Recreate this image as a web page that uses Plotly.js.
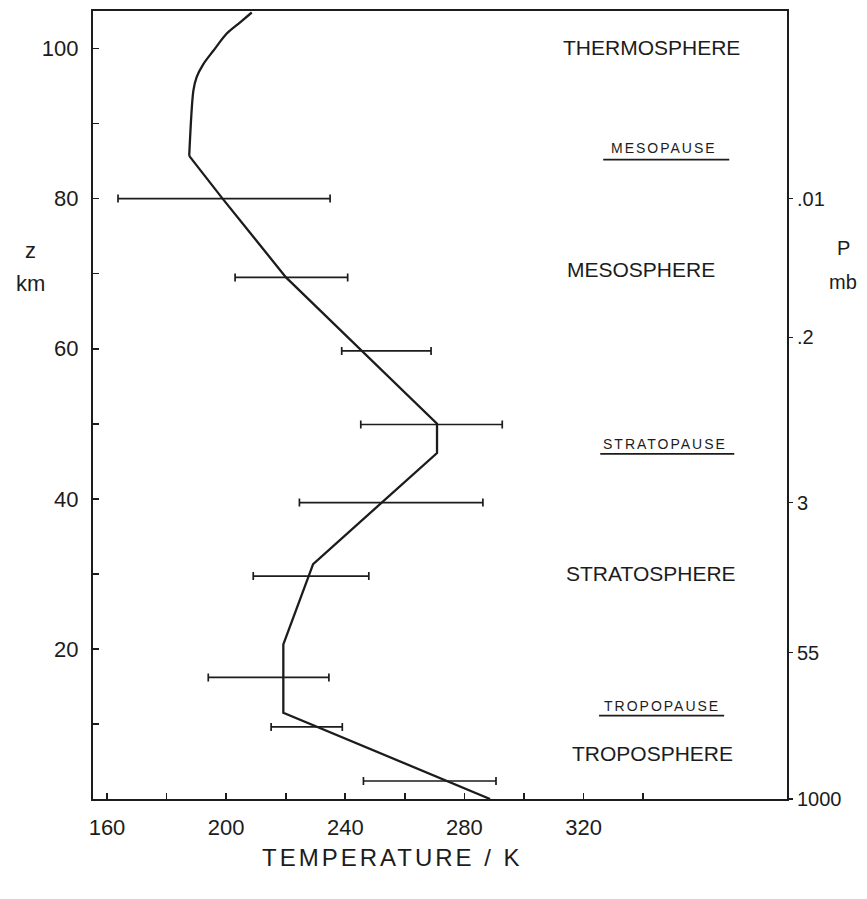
<!DOCTYPE html>
<html>
<head>
<meta charset="utf-8">
<script src="https://cdn.plot.ly/plotly-3.0.1.min.js"></script>
<style>html,body{margin:0;padding:0;background:#fff;}#chart{width:867px;height:899px;}</style>
</head>
<body>
<div id="chart"></div>
<script>
// Temperature profile (K) vs altitude (km)
const profileT = [288.6, 219.2, 219.2, 229.2, 270.8, 270.8, 220.1, 198.8, 187.6, 189.0, 190.1, 192.3, 195.7, 200.2, 204.7, 208.6];
const profileZ = [0, 11.5, 20.6, 31.3, 46.1, 50.0, 69.5, 80.0, 85.7, 94.4, 96.2, 97.9, 99.7, 102.0, 103.5, 104.8];
const mesopauseIndex = 8; // curve above this point is smooth

// Variability bars (K range at altitude)
const barZ  = [80.0, 69.5, 59.7, 49.9, 39.5, 29.7, 16.2, 9.6, 2.4];
const barLo = [163.7, 203.0, 238.8, 245.2, 224.6, 209.1, 194.0, 215.1, 246.1];
const barHi = [234.9, 240.8, 268.8, 292.7, 286.2, 247.9, 234.5, 239.0, 290.6];

// Axis ticks
const xTickVals = [160, 180, 200, 220, 240, 260, 280, 300, 320, 340];
const xTickText = ['160', '', '200', '', '240', '', '280', '', '320', ''];
const yTickVals = [10, 20, 30, 40, 50, 60, 70, 80, 90, 100];
const yTickText = ['', '20', '', '40', '', '60', '', '80', '', '100'];
// Pressure (mb) labels on right axis, at altitude (km)
const pZ = [0, 19.5, 39.5, 61.5, 80];
const pText = ['1000', '55', '3', '.2', '.01'];

// Region labels
const regionNames = ['THERMOSPHERE', 'MESOSPHERE', 'STRATOSPHERE', 'TROPOSPHERE'];
const regionX = [342.8, 339.3, 342.7, 343.0];
const regionZ = [100.1, 70.5, 30.1, 6.1];
const pauseNames = ['MESOPAUSE', 'STRATOPAUSE', 'TROPOPAUSE'];
const pauseX = [347.0, 347.4, 346.4];
const pauseZ = [86.7, 47.3, 12.4];
const pauseLineZ = [85.2, 46.0, 11.1];
const pauseLineX0 = [326.6, 325.6, 325.2];
const pauseLineX1 = [368.9, 370.6, 367.2];

const ink = '#1c1c1c';
const fam = '"Liberation Sans", Arial, sans-serif';

const barMid = barLo.map((l, i) => (l + barHi[i]) / 2);

const traces = [
  {
    x: profileT.slice(0, mesopauseIndex + 1), y: profileZ.slice(0, mesopauseIndex + 1),
    type: 'scatter', mode: 'lines',
    line: {color: ink, width: 2.3}, hoverinfo: 'skip', showlegend: false
  },
  {
    x: profileT.slice(mesopauseIndex), y: profileZ.slice(mesopauseIndex),
    type: 'scatter', mode: 'lines',
    line: {color: ink, width: 2.3, shape: 'spline', smoothing: 0.8}, hoverinfo: 'skip', showlegend: false
  },
  {
    x: barMid, y: barZ, type: 'scatter', mode: 'markers',
    marker: {size: 1, color: 'rgba(0,0,0,0)'},
    error_x: {
      type: 'data', symmetric: false,
      array: barHi.map((h, i) => h - barMid[i]),
      arrayminus: barMid.map((m, i) => m - barLo[i]),
      color: ink, thickness: 1.7, width: 4
    },
    hoverinfo: 'skip', showlegend: false
  },
  {
    x: pZ.map(() => 380), y: pZ, yaxis: 'y2', type: 'scatter', mode: 'markers',
    marker: {size: 1, color: 'rgba(0,0,0,0)'}, hoverinfo: 'skip', showlegend: false
  }
];

const annotations = [];
regionNames.forEach((t, i) => annotations.push({
  x: regionX[i], y: regionZ[i], xref: 'x', yref: 'y', text: t, showarrow: false,
  font: {family: fam, size: 21, color: ink}, xanchor: 'center', yanchor: 'middle'
}));
pauseNames.forEach((t, i) => annotations.push({
  x: pauseX[i], y: pauseZ[i], xref: 'x', yref: 'y',
  text: '<span style="letter-spacing:2px">' + t + '</span>', showarrow: false,
  font: {family: fam, size: 14, color: ink}, xanchor: 'center', yanchor: 'middle'
}));
annotations.push(
  {x: 30, y: 250, text: 'z', showarrow: false, font: {family: fam, size: 22, color: ink}},
  {x: 30, y: 283, text: 'km', showarrow: false, font: {family: fam, size: 22, color: ink}},
  {x: 843, y: 248, text: 'P', showarrow: false, font: {family: fam, size: 20, color: ink}},
  {x: 843, y: 282, text: 'mb', showarrow: false, font: {family: fam, size: 20, color: ink}},
  {x: 392, y: 857, text: '<span style="letter-spacing:3px">TEMPERATURE / K</span>', showarrow: false,
   font: {family: fam, size: 24, color: ink}}
);
// convert the pixel-positioned labels to paper coords
const W = 867, H = 899, L = 93, R = 80, T = 11, B = 100;
const pw = W - L - R, ph = H - T - B;
annotations.forEach(a => {
  if (a.xref === undefined) {
    const px = a.x, py = a.y;
    a.xref = 'paper'; a.yref = 'paper';
    a.x = (px - L) / pw; a.y = (H - B - py) / ph;
    a.xanchor = 'center'; a.yanchor = 'middle';
  }
});

const shapes = pauseNames.map((t, i) => ({
  type: 'line', xref: 'x', yref: 'y',
  x0: pauseLineX0[i], x1: pauseLineX1[i], y0: pauseLineZ[i], y1: pauseLineZ[i],
  line: {color: ink, width: 1.8}
}));

const layout = {
  width: W, height: H,
  margin: {l: L, r: R, t: T, b: B, pad: 0},
  paper_bgcolor: '#fff', plot_bgcolor: '#fff',
  showlegend: false,
  font: {family: fam, color: ink},
  xaxis: {
    range: [155.3, 388.3], showgrid: false, zeroline: false,
    showline: true, linecolor: ink, linewidth: 2.2, mirror: true,
    ticks: 'inside', ticklen: 6, tickwidth: 1.6, tickcolor: ink,
    tickmode: 'array', tickvals: xTickVals, ticktext: xTickText,
    tickfont: {family: fam, size: 22, color: ink}, ticklabelstandoff: 7
  },
  yaxis: {
    range: [0, 105], showgrid: false, zeroline: false,
    showline: true, linecolor: ink, linewidth: 2.2, mirror: true,
    ticks: 'inside', ticklen: 6, tickwidth: 1.6, tickcolor: ink,
    tickmode: 'array', tickvals: yTickVals, ticktext: yTickText,
    tickfont: {family: fam, size: 22, color: ink}, ticklabelstandoff: 8
  },
  yaxis2: {
    overlaying: 'y', side: 'right', range: [0, 105],
    showgrid: false, zeroline: false, showline: false,
    ticks: 'outside', ticklen: 5, tickwidth: 1.4, tickcolor: ink,
    tickmode: 'array', tickvals: pZ, ticktext: pText,
    tickfont: {family: fam, size: 20, color: ink}
  },
  annotations: annotations,
  shapes: shapes
};

Plotly.newPlot('chart', traces, layout, {staticPlot: true, displayModeBar: false});
</script>
</body>
</html>
